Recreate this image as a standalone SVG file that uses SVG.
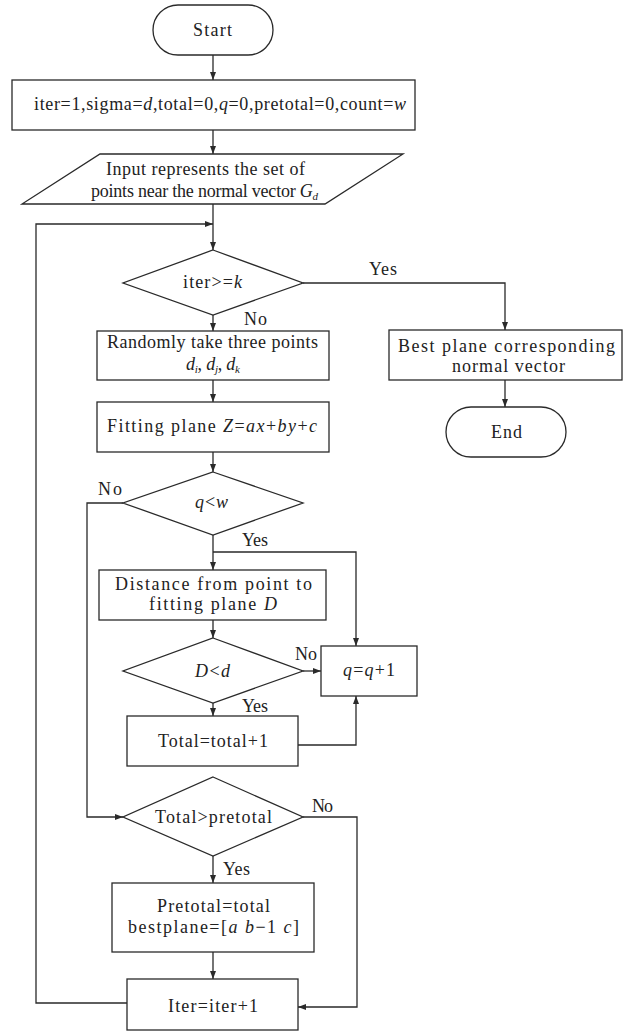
<svg xmlns="http://www.w3.org/2000/svg" width="629" height="1032" viewBox="0 0 629 1032">
<style>
.s{fill:#fff;stroke:#2a2a2a;stroke-width:1.3}
.c{fill:none;stroke:#2a2a2a;stroke-width:1.3}
text{font-family:"Liberation Serif","Times New Roman",serif;font-size:18px;fill:#222}
.i{font-style:italic}
.sub{font-size:11px;font-style:italic}
</style>
<defs>
<marker id="a" markerUnits="userSpaceOnUse" markerWidth="8" markerHeight="8" viewBox="0 0 8 8" refX="8" refY="4" orient="auto">
<path d="M0,1 L8,4 L0,7 Z" fill="#2a2a2a"/>
</marker>
</defs>
<rect width="629" height="1032" fill="#fff"/>
<g id="connectors">
<path class="c" d="M213,55 V80" marker-end="url(#a)"/>
<path class="c" d="M213,130 V154" marker-end="url(#a)"/>
<path class="c" d="M213,204 V250" marker-end="url(#a)"/>
<path class="c" d="M127,1003 H36 V224 H213" marker-end="url(#a)"/>
<path class="c" d="M303,283 H505 V330" marker-end="url(#a)"/>
<path class="c" d="M505,380 V407" marker-end="url(#a)"/>
<path class="c" d="M213,315 V331" marker-end="url(#a)"/>
<path class="c" d="M213,380 V402" marker-end="url(#a)"/>
<path class="c" d="M213,452 V472" marker-end="url(#a)"/>
<path class="c" d="M213,535 V570" marker-end="url(#a)"/>
<path class="c" d="M213,552 H356 V646" marker-end="url(#a)"/>
<path class="c" d="M123,503 H87 V817 H123" marker-end="url(#a)"/>
<path class="c" d="M213,620 V638" marker-end="url(#a)"/>
<path class="c" d="M303,671 H321" marker-end="url(#a)"/>
<path class="c" d="M213,703 V716" marker-end="url(#a)"/>
<path class="c" d="M298,745 H356 V696" marker-end="url(#a)"/>
<path class="c" d="M303,817 H357 V1007 H298" marker-end="url(#a)"/>
<path class="c" d="M213,856 V883" marker-end="url(#a)"/>
<path class="c" d="M213,952 V979" marker-end="url(#a)"/>
<text x="369" y="275" textLength="28">Yes</text>
<text x="244" y="325" textLength="23">No</text>
<text x="98" y="495" textLength="24">No</text>
<text x="242" y="546" textLength="26">Yes</text>
<text x="295" y="660" textLength="22">No</text>
<text x="242" y="712" textLength="26">Yes</text>
<text x="312" y="812" textLength="21">No</text>
<text x="223" y="875" textLength="27">Yes</text>
</g>
<g id="start">
<rect class="s" x="153" y="5" width="120" height="50" rx="25"/>
<text x="193" y="36" textLength="39">Start</text>
</g>
<g id="init">
<rect class="s" x="12" y="80" width="403" height="50"/>
<text x="34" y="110" textLength="372">iter=1,sigma=<tspan class="i">d</tspan>,total=0,<tspan class="i">q</tspan>=0,pretotal=0,count=<tspan class="i">w</tspan></text>
</g>
<g id="input">
<polygon class="s" points="100,154 403,154 325,204 22,204"/>
<text x="106" y="175" textLength="199">Input represents the set of</text>
<text x="91" y="197" textLength="227">points near the normal vector <tspan class="i">G</tspan><tspan class="sub" dy="3">d</tspan></text>
</g>
<g id="cond-iter">
<polygon class="s" points="213,250 303,283 213,315 123,283"/>
<text x="183" y="288" textLength="59">iter&gt;=<tspan class="i">k</tspan></text>
</g>
<g id="random">
<rect class="s" x="97" y="331" width="232" height="49"/>
<text x="107" y="348" textLength="211">Randomly take three points</text>
<text x="186" y="370" textLength="54"><tspan class="i">d</tspan><tspan class="sub" dy="3">i</tspan><tspan dy="-3">, </tspan><tspan class="i">d</tspan><tspan class="sub" dy="3">j</tspan><tspan dy="-3">, </tspan><tspan class="i">d</tspan><tspan class="sub" dy="3">k</tspan></text>
</g>
<g id="fit">
<rect class="s" x="97" y="402" width="232" height="50"/>
<text x="107" y="432" textLength="210">Fitting plane <tspan class="i">Z</tspan>=<tspan class="i">ax</tspan>+<tspan class="i">by</tspan>+<tspan class="i">c</tspan></text>
</g>
<g id="best">
<rect class="s" x="389" y="330" width="233" height="50"/>
<text x="398" y="352" textLength="217">Best plane corresponding</text>
<text x="452" y="372" textLength="113">normal vector</text>
</g>
<g id="end">
<rect class="s" x="446" y="407" width="120" height="50" rx="25"/>
<text x="491" y="438" textLength="31">End</text>
</g>
<g id="cond-q">
<polygon class="s" points="213,472 303,503 213,535 123,503"/>
<text x="195" y="508" textLength="33"><tspan class="i">q</tspan>&lt;<tspan class="i">w</tspan></text>
</g>
<g id="distance">
<rect class="s" x="99" y="570" width="227" height="50"/>
<text x="115" y="590" textLength="197">Distance from point to</text>
<text x="149" y="610" textLength="128">fitting plane <tspan class="i">D</tspan></text>
</g>
<g id="cond-d">
<polygon class="s" points="213,638 303,671 213,703 123,671"/>
<text x="195" y="677" textLength="35"><tspan class="i">D</tspan>&lt;<tspan class="i">d</tspan></text>
</g>
<g id="qinc">
<rect class="s" x="321" y="646" width="96" height="50"/>
<text x="343" y="676" textLength="52"><tspan class="i">q</tspan>=<tspan class="i">q</tspan>+1</text>
</g>
<g id="total">
<rect class="s" x="127" y="716" width="171" height="50"/>
<text x="158" y="747" textLength="110">Total=total+1</text>
</g>
<g id="cond-total">
<polygon class="s" points="213,777 303,817 213,856 123,817"/>
<text x="155" y="823" textLength="117">Total&gt;pretotal</text>
</g>
<g id="pretotal">
<rect class="s" x="112" y="883" width="202" height="69"/>
<text x="157" y="912" textLength="113">Pretotal=total</text>
<text x="128" y="933" textLength="171">bestplane=[<tspan class="i">a</tspan>  <tspan class="i">b</tspan>−1  <tspan class="i">c</tspan>]</text>
</g>
<g id="iterinc">
<rect class="s" x="127" y="979" width="171" height="51"/>
<text x="168" y="1012" textLength="90">Iter=iter+1</text>
</g>
</svg>
